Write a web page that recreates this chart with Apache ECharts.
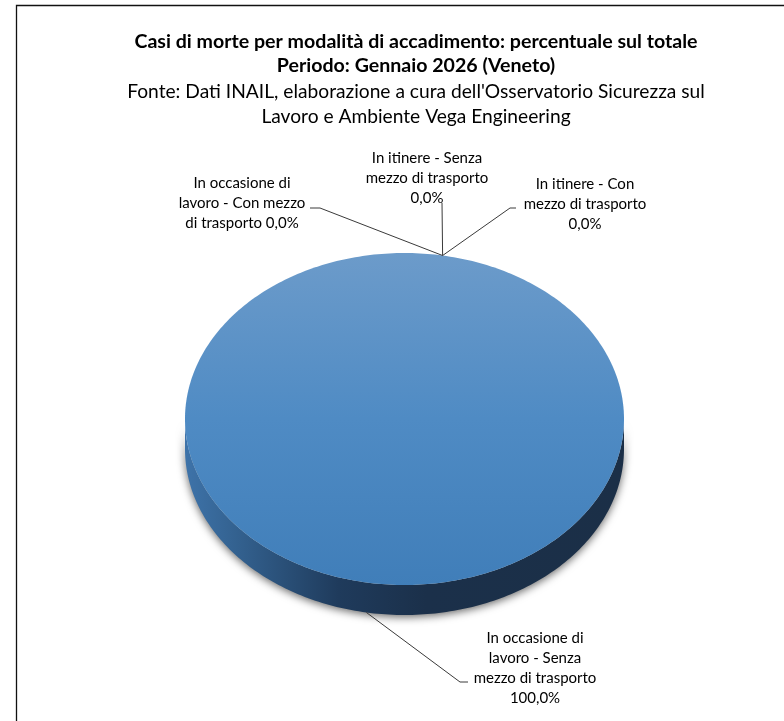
<!DOCTYPE html>
<html>
<head>
<meta charset="utf-8">
<script src="https://cdn.jsdelivr.net/npm/echarts@6/dist/echarts.min.js"></script>
<style>
html,body{margin:0;padding:0;background:#fff;}
#chart{width:784px;height:721px;}
</style>
</head>
<body>
<div id="chart"></div>
<script>
// ---- data ----
const categories = [
  'In occasione di lavoro - Con mezzo di trasporto',
  'In occasione di lavoro - Senza mezzo di trasporto',
  'In itinere - Con mezzo di trasporto',
  'In itinere - Senza mezzo di trasporto'
];
const percentages = [0, 100, 0, 0];
const titleLines = [
  'Casi di morte per modalità di accadimento: percentuale sul totale',
  'Periodo: Gennaio 2026 (Veneto)'
];
const subtitleLines = [
  "Fonte: Dati INAIL, elaborazione a cura dell'Osservatorio Sicurezza sul",
  'Lavoro e Ambiente Vega Engineering'
];

// ---- layout (not data) ----
const PIE = { cx: 404.5, cy: 419, rx: 219.5, ry: 166, depth: 30, startAngle: 10 };
// wrap: number of words on each label line
const LABEL_LAYOUT = [
  { x: 242, y: 203, wrap: [3, 4, 3], pts: [[320, 208], [310, 208]] },
  { x: 535, y: 668, wrap: [3, 3, 3, 1], pts: [[460, 682], [468, 682]] },
  { x: 585, y: 204, wrap: [4, 3, 1], pts: [[510, 208], [516, 208]] },
  { x: 427, y: 178, wrap: [4, 3, 1], pts: [[442, 203]] }
];
const FONT = 'Lato, "Liberation Sans", sans-serif';

const total = percentages.reduce((a, b) => a + b, 0);
const cumulative = [];
percentages.reduce((acc, v, i) => { cumulative[i] = acc; return acc + v; }, 0);

function pt(deg, dy) {
  const r = deg * Math.PI / 180;
  return [PIE.cx + PIE.rx * Math.sin(r), PIE.cy - PIE.ry * Math.cos(r) + (dy || 0)];
}
function arc(a, b, dy) {
  const out = [];
  const n = Math.max(2, Math.ceil(Math.abs(b - a)));
  for (let k = 0; k <= n; k++) out.push(pt(a + (b - a) * k / n, dy));
  return out;
}
function fmt(v) { return v.toFixed(1).replace('.', ',') + '%'; }
function wrapText(text, wrap) {
  const words = text.split(' ');
  const lines = [];
  let p = 0;
  wrap.forEach(n => { lines.push(words.slice(p, p + n).join(' ')); p += n; });
  if (p < words.length) lines.push(words.slice(p).join(' '));
  return lines.join('\n');
}

function renderItem(params, api) {
  const i = params.dataIndex;
  const v = api.value(0);
  const start = PIE.startAngle + 360 * cumulative[i] / total;
  const end = start + 360 * v / total;
  const children = [];
  if (v > 0) {
    // side walls (front-facing part)
    for (let k = -1; k <= 1; k++) {
      const a = Math.max(start, 90 + 360 * k);
      const b = Math.min(end, 270 + 360 * k);
      if (a < b) {
        const poly = arc(a, b, 0).concat(arc(b, a, PIE.depth));
        children.push({
          type: 'polygon', z2: 1,
          shape: { points: poly },
          style: {
            fill: new echarts.graphic.LinearGradient(0, 0, 1, 0, [
              { offset: 0, color: '#3e73a9' },
              { offset: 0.12, color: '#33618f' },
              { offset: 0.35, color: '#1f3b5c' },
              { offset: 0.55, color: '#1b304a' },
              { offset: 1, color: '#1b2f47' }
            ]),
            shadowBlur: 9, shadowColor: 'rgba(0,0,0,0.6)', shadowOffsetY: 2
          }
        });
      }
    }
    // top face
    let top = arc(start, end, 0);
    if (end - start < 360) top = [[PIE.cx, PIE.cy]].concat(top);
    children.push({
      type: 'polygon', z2: 2,
      shape: { points: top },
      style: {
        fill: new echarts.graphic.LinearGradient(0, 0, 0, 1, [
          { offset: 0, color: '#6c9bca' },
          { offset: 0.5, color: '#4f8bc4' },
          { offset: 1, color: '#407eb9' }
        ])
      }
    });
  }
  // anchor for label leader line
  let anchor;
  if (v === 0) anchor = pt(start, 0);
  else {
    const mid = (start + end) / 2;
    anchor = Math.cos(mid * Math.PI / 180) < 0 ? pt(mid, PIE.depth) : pt(mid, 0);
  }
  const L = LABEL_LAYOUT[i];
  children.push({
    type: 'polyline', z2: 3,
    shape: { points: [anchor].concat(L.pts) },
    style: { stroke: '#3a3a3a', lineWidth: 1, fill: null }
  });
  children.push({
    type: 'text', z2: 4,
    style: {
      text: wrapText(categories[i] + ' ' + fmt(v), L.wrap),
      x: L.x, y: L.y,
      align: 'center', verticalAlign: 'middle',
      fontFamily: FONT, fontSize: 15, lineHeight: 20, fill: '#000'
    }
  });
  return { type: 'group', children: children };
}

const chart = echarts.init(document.getElementById('chart'), null, { renderer: 'canvas' });
chart.setOption({
  backgroundColor: '#fff',
  animation: false,
  title: {
    text: titleLines.join('\n'),
    subtext: subtitleLines.join('\n'),
    left: 416, top: 30, textAlign: 'center', itemGap: 2, padding: 0,
    textStyle: { fontFamily: FONT, fontWeight: 'bold', fontSize: 19.6, lineHeight: 24, color: '#000' },
    subtextStyle: { fontFamily: FONT, fontWeight: 'normal', fontSize: 19.2, lineHeight: 24.5, color: '#000' }
  },
  graphic: [{
    type: 'rect', silent: true,
    shape: { x: 16.5, y: 5.5, width: 1000, height: 1000 },
    style: { fill: 'none', stroke: '#111', lineWidth: 1.3 }
  }],
  series: [{
    type: 'custom',
    coordinateSystem: 'none',
    silent: true,
    data: percentages.map(v => [v]),
    renderItem: renderItem
  }]
});
</script>
</body>
</html>
